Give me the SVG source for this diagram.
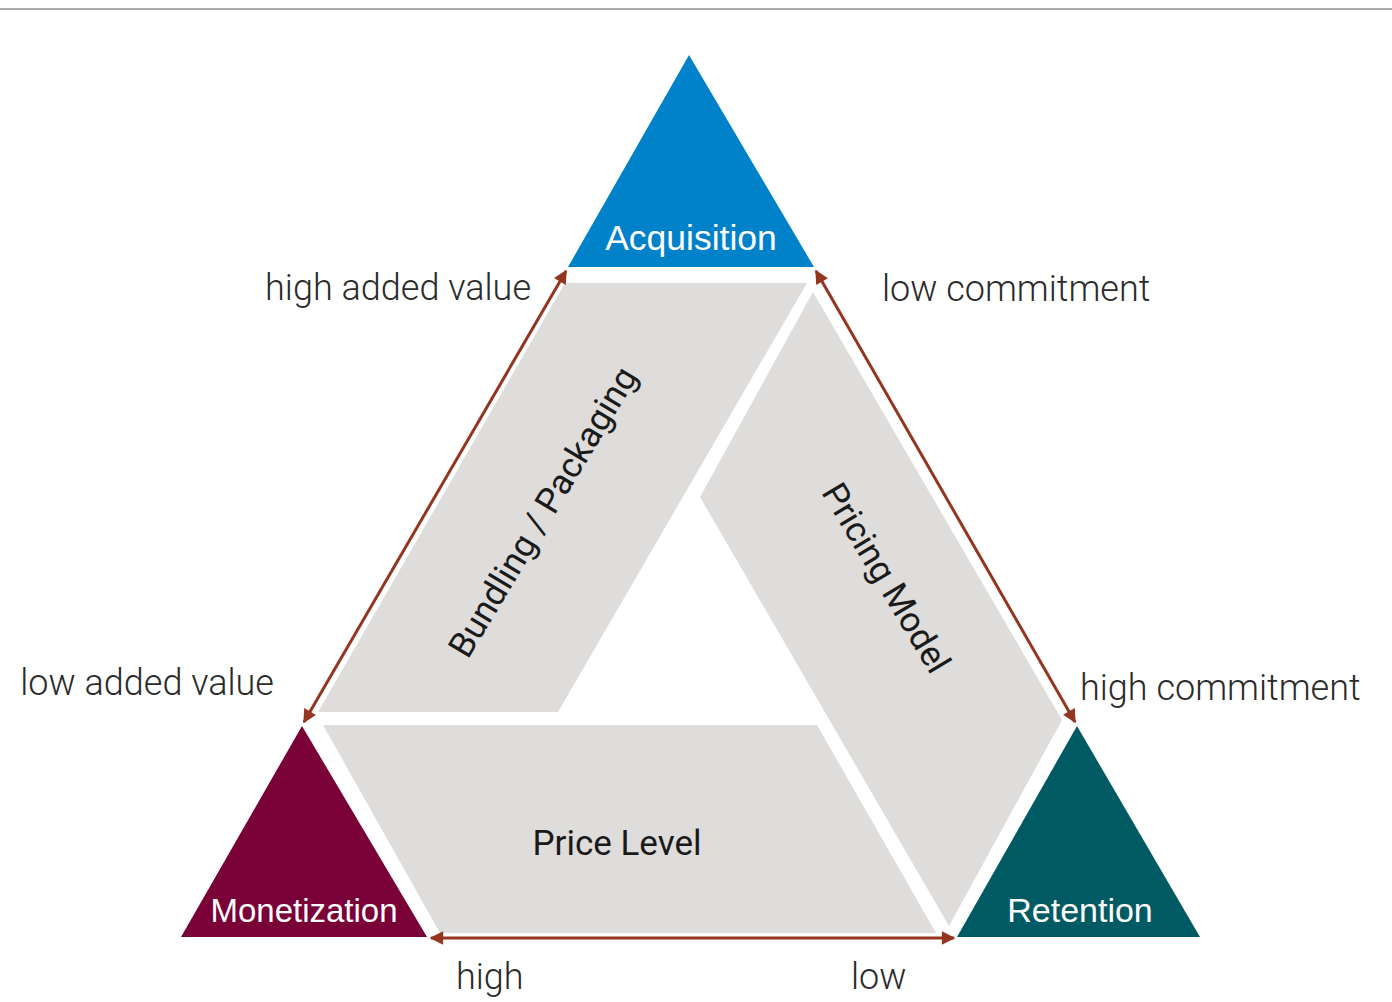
<svg xmlns="http://www.w3.org/2000/svg" width="1392" height="1002" viewBox="0 0 1392 1002">
  <style>
    .shade { fill: #dedddb; }
    .corner-label { font-family: "Liberation Sans", Arial, sans-serif; font-size: 34px; fill: #ffffff; text-anchor: middle; }
    .piece-label { font-family: Roboto, "Liberation Sans", sans-serif; font-size: 35px; fill: #1a1a1a; text-anchor: middle; }
    .axis-label { font-family: Roboto, "Liberation Sans", sans-serif; font-weight: 300; font-size: 36px; fill: #2b2b2b; }
    .axis { stroke: #943520; stroke-width: 3; fill: none; marker-start: url(#tip); marker-end: url(#tip); }
  </style>
  <defs>
    <marker id="tip" viewBox="0 0 10 10" refX="9" refY="5" markerWidth="5" markerHeight="4.5" orient="auto-start-reverse" markerUnits="strokeWidth">
      <path d="M0,0 L10,5 L0,10 z" fill="#943520"/>
    </marker>
  </defs>

  <rect width="1392" height="1002" fill="#ffffff"/>
  <line x1="0" y1="9" x2="1392" y2="9" stroke="#a9a9a9" stroke-width="2"/>

  <!-- lever pieces -->
  <g id="bundling">
    <polygon class="shade" points="565,283 807,283 558,712 318,712"/>
    <text class="piece-label" transform="translate(553,518) rotate(-59)">Bundling / Packaging</text>
  </g>
  <g id="pricing-model">
    <polygon class="shade" points="813,292 1062,720 949,926 700,497"/>
    <text class="piece-label" transform="translate(876,584) rotate(59)">Pricing Model</text>
  </g>
  <g id="price-level">
    <polygon class="shade" points="323,725 817,725 936,933 440,933"/>
    <text class="piece-label" x="617" y="855">Price Level</text>
  </g>

  <!-- goal corners -->
  <g id="acquisition">
    <polygon points="689,55 568,267 814,267" fill="#0082ca"/>
    <text class="corner-label" x="691" y="250" style="font-size:35.5px">Acquisition</text>
  </g>
  <g id="monetization">
    <polygon points="302,726 181,937 427,937" fill="#7a0038"/>
    <text class="corner-label" x="304" y="922" style="font-size:33px">Monetization</text>
  </g>
  <g id="retention">
    <polygon points="1077,726 957,937 1200,937" fill="#005a63"/>
    <text class="corner-label" x="1080" y="922">Retention</text>
  </g>

  <!-- scale arrows -->
  <g id="connectors">
    <line class="axis" x1="566" y1="271" x2="304" y2="722"/>
    <line class="axis" x1="816" y1="271" x2="1075" y2="722"/>
    <line class="axis" x1="431" y1="938" x2="954" y2="938"/>
  </g>

  <!-- scale labels -->
  <g id="scale-labels">
    <text class="axis-label" x="531" y="300" text-anchor="end">high added value</text>
    <text class="axis-label" x="274" y="695" text-anchor="end">low added value</text>
    <text class="axis-label" x="882" y="301">low commitment</text>
    <text class="axis-label" x="1080" y="700">high commitment</text>
    <text class="axis-label" x="456" y="989">high</text>
    <text class="axis-label" x="851" y="989">low</text>
  </g>
</svg>
